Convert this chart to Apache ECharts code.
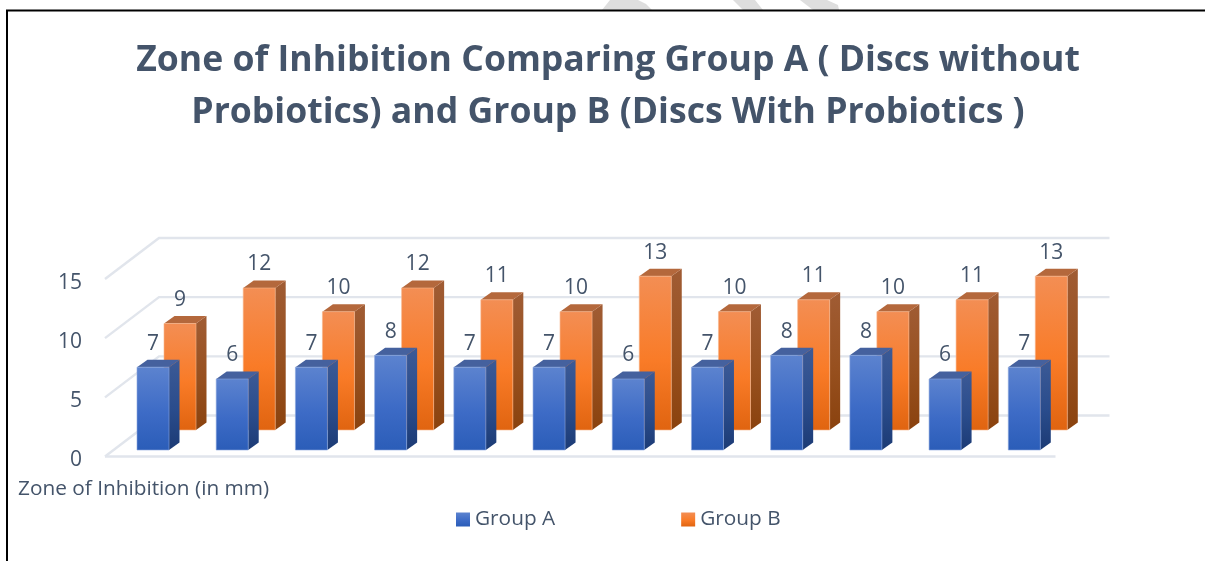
<!DOCTYPE html>
<html>
<head>
<meta charset="utf-8">
<style>html,body{margin:0;padding:0;background:#fff}#chart{width:1205px;height:561px}</style>
<script src="https://cdn.jsdelivr.net/npm/echarts@6/dist/echarts.min.js"></script>
</head>
<body>
<div id="chart"></div>
<script>
const categories = ['1','2','3','4','5','6','7','8','9','10','11','12'];
const groupA = [7,6,7,8,7,7,6,7,8,8,6,7];
const groupB = [9,12,10,12,11,10,13,10,11,10,11,13];
const yTicks = [0,5,10,15];
const seriesNames = ['Group A','Group B'];
const titleText = 'Zone of Inhibition Comparing Group A ( Discs without\nProbiotics) and Group B (Discs With Probiotics )';
const axisCaption = 'Zone of Inhibition (in mm)';

const FONT = '"Open Sans","Noto Sans",sans-serif';
const INK = '#44546a';
const grad = (top, mid, bottom) => new echarts.graphic.LinearGradient(0,0,0,1,[
  {offset:0,color:top},{offset:.55,color:mid},{offset:1,color:bottom}]);

const bluePal = {front:['#5c83cf','#3d6bc6','#2b5db8'], side:['#3c5a96','#2a4c8c','#1c3b75'], top:'#45619e', edge:'#8aa6de'};
const orangePal = {front:['#f38e54','#f97b27','#e06410'], side:['#a05c34','#97501f','#8a420e'], top:'#b4683c', edge:'#f8b58c'};

function barRenderer(pal, dx, dy){
  return function(params, api){
    const p = api.coord([api.value(0), 0]);
    const t = api.coord([api.value(0), api.value(1)]);
    const w = api.size([1,0])[0] * 0.404;
    const l = p[0] + dx - w/2, r = l + w, b = p[1] + dy, top = t[1] + dy;
    const ox = 10.5, oy = 7.5;
    return {type:'group', children:[
      {type:'polygon', shape:{points:[[r,top],[r+ox,top-oy],[r+ox,b-oy],[r,b]]},
        style:{fill:grad(pal.side[0],pal.side[1],pal.side[2])}},
      {type:'polygon', shape:{points:[[l,top],[l+ox,top-oy],[r+ox,top-oy],[r,top]]},
        style:{fill:pal.top}},
      {type:'rect', shape:{x:l,y:top,width:w,height:b-top},
        style:{fill:grad(pal.front[0],pal.front[1],pal.front[2]),stroke:pal.edge,lineWidth:.6}},
      {type:'text', style:{x:(l+r)/2,y:top-23.5,text:String(api.value(1)),fill:INK,
        font:'21px '+FONT,align:'center',verticalAlign:'middle'}}
    ]};
  };
}
function wallRenderer(params, api){
  const v = api.value(0);
  const cs = params.coordSys;
  const p = api.coord([0, v]);
  const x0 = cs.x, x1 = cs.x + cs.width, y = p[1];
  const ls = {stroke:'#e1e5ec',lineWidth:2.4,fill:null};
  const kids = [
    {type:'polyline',shape:{points:[[x0,y],[x0+54,y-41],[x1+54,y-41]]},style:ls}
  ];
  if(v===0) kids.push({type:'line',shape:{x1:x0,y1:y,x2:x1,y2:y},style:ls});
  return {type:'group',children:kids};
}

const option = {
  backgroundColor:'#fff',
  animation:false,
  title:[
    {text:titleText,left:603,textAlign:'center',top:30,
     textStyle:{fontFamily:FONT,fontSize:35.6,fontWeight:'bold',color:INK,lineHeight:52}},
    {text:axisCaption,left:13,top:474,
     textStyle:{fontFamily:FONT,fontSize:20.8,fontWeight:'normal',color:INK}}
  ],
  legend:{data:seriesNames,left:451,top:504,itemWidth:14,itemHeight:14,itemGap:126,icon:'rect',
    textStyle:{fontFamily:FONT,fontSize:20.8,color:INK}},
  grid:{left:105,top:279,width:950.5,height:177.5,containLabel:false},
  xAxis:{type:'category',data:categories,axisLine:{show:false},axisTick:{show:false},axisLabel:{show:false},splitLine:{show:false}},
  yAxis:{type:'value',min:0,max:15,interval:5,axisLine:{show:false},axisTick:{show:false},splitLine:{show:false},
    axisLabel:{margin:23,fontFamily:FONT,fontSize:21,color:INK,verticalAlign:'top',lineHeight:8}},
  series:[
    {type:'custom',name:'walls',silent:true,z:1,clip:false,renderItem:wallRenderer,data:yTicks.map(v=>[v]),encode:{x:[],y:0}},
    {type:'custom',name:seriesNames[1],z:2,clip:false,renderItem:barRenderer(orangePal,35.4,-26.5),
      itemStyle:{color:grad(orangePal.front[0],orangePal.front[1],orangePal.front[2])},
      data:groupB.map((v,i)=>[i,v]),encode:{x:0,y:1}},
    {type:'custom',name:seriesNames[0],z:3,clip:false,renderItem:barRenderer(bluePal,8.4,-6.5),
      itemStyle:{color:grad(bluePal.front[0],bluePal.front[1],bluePal.front[2])},
      data:groupA.map((v,i)=>[i,v]),encode:{x:0,y:1}}
  ],
  graphic:[
    {type:'line',silent:true,shape:{x1:7,y1:10.5,x2:7,y2:561},style:{stroke:'#000',lineWidth:2},z:-1},
    {type:'line',silent:true,shape:{x1:6,y1:10.5,x2:1205,y2:10.5},style:{stroke:'#000',lineWidth:2},z:-1},
    {type:'polygon',silent:true,shape:{points:[[602,10],[610,0],[638,0],[646,4],[652,10]]},style:{fill:'#dedede'},z:-2},
    {type:'polygon',silent:true,shape:{points:[[733,0],[755,0],[763,10],[743,10]]},style:{fill:'#dedede'},z:-2},
    {type:'polygon',silent:true,shape:{points:[[800,0],[827,0],[838,5],[839,10],[813,10]]},style:{fill:'#dedede'},z:-2}
  ]
};
const chart = echarts.init(document.getElementById('chart'),null,{renderer:'canvas'});
chart.setOption(option);
</script>
</body>
</html>
